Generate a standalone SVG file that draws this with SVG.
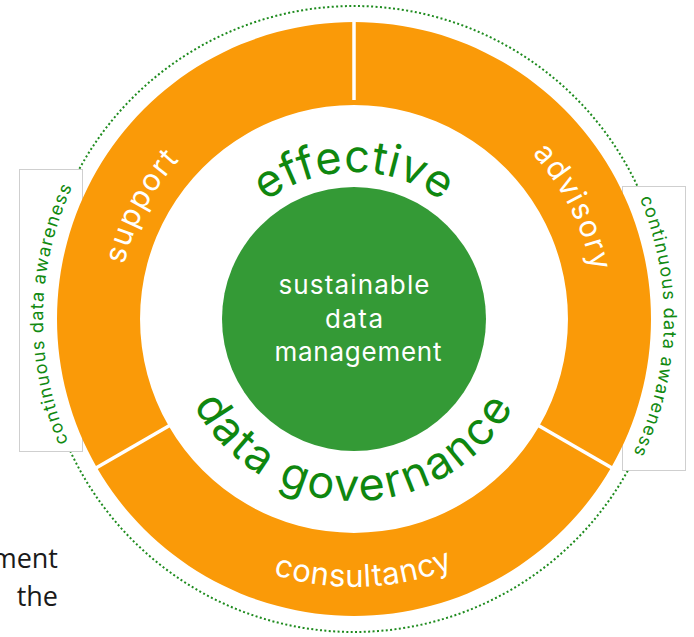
<svg xmlns="http://www.w3.org/2000/svg" width="694" height="637" viewBox="0 0 694 637">
<style>
.seg{fill:#FA9A08}
.div{stroke:#fff;stroke-width:3.5;fill:none}
.box{fill:#fff;stroke:#cfcfcf;stroke-width:1}
.aware{font-family:Inter,Lato,"Liberation Sans",sans-serif;font-size:18px;fill:#118A11;letter-spacing:1.2px}
.ringlbl{font-family:Inter,Lato,"Liberation Sans",sans-serif;font-size:30px;fill:#fff;letter-spacing:1.6px}
.cons{font-size:31px;letter-spacing:0.6px}
.big{font-family:Inter,Lato,"Liberation Sans",sans-serif;font-size:45px;fill:#0F870F}
.center{font-family:Inter,Lato,"Liberation Sans",sans-serif;font-size:26px;fill:#fff}
.bg{font-family:"Open Sans","Liberation Sans",sans-serif;font-size:27px;fill:#1a1a1a}
</style>
<defs>
<path id="pEff" d="M207,319 A147 147 0 0 1 501,319"/>
<path id="pGov" d="M172,319 A182 182 0 0 0 536,319"/>
<path id="pCons" d="M86,319 A268 268 0 0 0 622,319"/>
<path id="pSup" d="M153.9,444.3 A236 236 0 0 1 345.8,83.1"/>
<path id="pAdv" d="M366.8,75.3 A244 244 0 0 1 557.0,452.0"/>
<path id="pAwL" d="M193.8,585.6 A311 311 0 0 1 203.2,47.0"/>
<path id="pAwR" d="M516.0,54.7 A310 310 0 0 1 501.9,591.4"/>
</defs>
<rect width="694" height="637" fill="#fff"/>
<g id="background-text">
<text class="bg" x="58" y="568" text-anchor="end">ment</text>
<text class="bg" x="58" y="606" text-anchor="end">the</text>
</g>
<circle id="dotted-ring" cx="354" cy="319" r="313" fill="none" stroke="#1E8B1E" stroke-width="2" stroke-dasharray="2 2.4"/>
<g id="awareness-left">
<rect class="box" x="19.5" y="169.5" width="63" height="282"/>
<text class="aware"><textPath href="#pAwL" startOffset="50%" text-anchor="middle">continuous data awareness</textPath></text>
</g>
<g id="awareness-right">
<rect class="box" x="622.5" y="186.5" width="63" height="284"/>
<text class="aware"><textPath href="#pAwR" startOffset="50%" text-anchor="middle">continuous data awareness</textPath></text>
</g>
<g id="support">
<path class="seg" d="M96.8,467.5 A297 297 0 0 1 354,22 L354,105 A214 214 0 0 0 168.7,426 Z"/>
<text class="ringlbl"><textPath href="#pSup" startOffset="50%" text-anchor="middle">support</textPath></text>
</g>
<g id="advisory">
<path class="seg" d="M354,22 A297 297 0 0 1 611.2,467.5 L539.3,426 A214 214 0 0 0 354,105 Z"/>
<text class="ringlbl"><textPath href="#pAdv" startOffset="50%" text-anchor="middle">advisory</textPath></text>
</g>
<g id="consultancy">
<path class="seg" d="M611.2,467.5 A297 297 0 0 1 96.8,467.5 L168.7,426 A214 214 0 0 0 539.3,426 Z"/>
<text class="ringlbl cons"><textPath href="#pCons" startOffset="51.2%" text-anchor="middle">consultancy</textPath></text>
</g>
<g id="connectors">
<line class="div" x1="354" y1="100" x2="354" y2="18"/>
<line class="div" x1="531.5" y1="421.5" x2="615.5" y2="470"/>
<line class="div" x1="176.5" y1="421.5" x2="92.5" y2="470"/>
</g>
<g id="core">
<circle cx="354" cy="319" r="132" fill="#349A36"/>
<text class="center" x="354" y="294" text-anchor="middle" textLength="151" lengthAdjust="spacing">sustainable</text>
<text class="center" x="354" y="328" text-anchor="middle" textLength="58" lengthAdjust="spacing">data</text>
<text class="center" x="358" y="361" text-anchor="middle" textLength="167" lengthAdjust="spacing">management</text>
</g>
<g id="effective-data-governance">
<text class="big" letter-spacing="0.6"><textPath href="#pEff" startOffset="50%" text-anchor="middle">effective</textPath></text>
<text class="big" letter-spacing="2.3"><textPath href="#pGov" startOffset="50%" text-anchor="middle">data governance</textPath></text>
</g>
</svg>
